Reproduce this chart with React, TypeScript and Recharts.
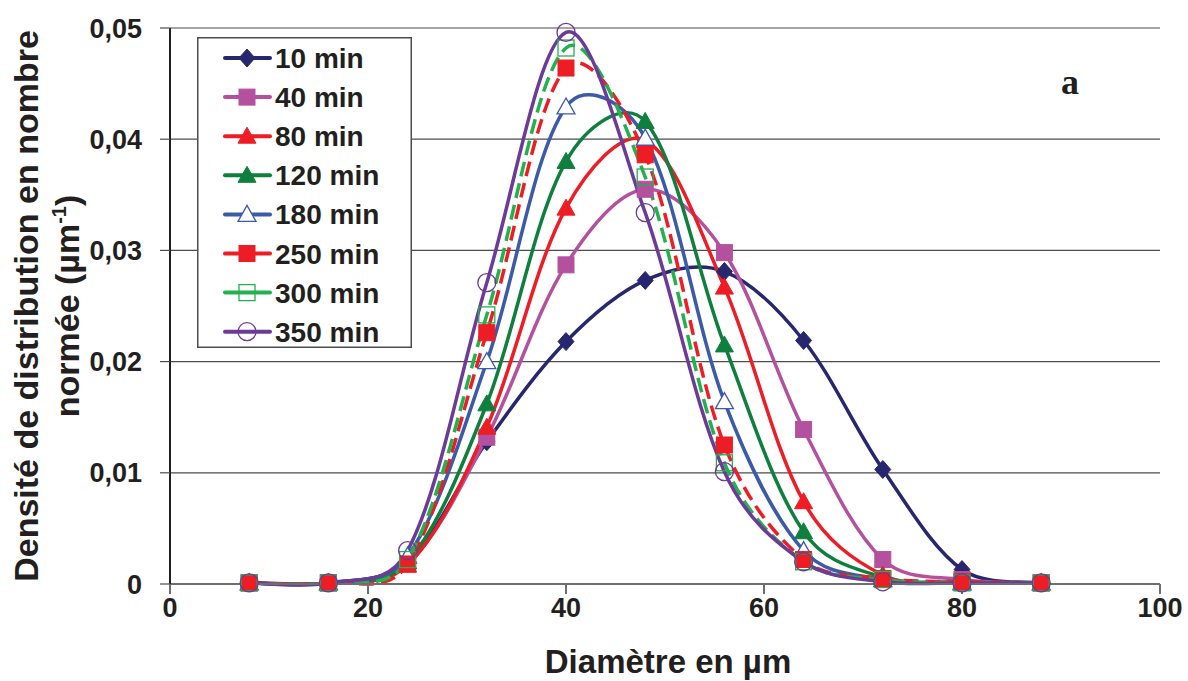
import React from 'react';
import { LineChart, Line, XAxis, YAxis, CartesianGrid, Legend, Label } from 'recharts';

// ---------- data ----------
const diameters = [8, 16, 24, 32, 40, 48, 56, 64, 72, 80, 88];
const min10 = [0.0001, 0.0001, 0.002, 0.0128, 0.0218, 0.0273, 0.0281, 0.0219, 0.0103, 0.0013, 0.0001];
const min40 = [0.0001, 0.0001, 0.0018, 0.0132, 0.0287, 0.0355, 0.0298, 0.0139, 0.0022, 0.0004, 0.0001];
const min80 = [0.0001, 0.0001, 0.0017, 0.0141, 0.0338, 0.0399, 0.0267, 0.0074, 0.0008, 0.0002, 0.0001];
const min120 = [0.0001, 0.0001, 0.002, 0.0162, 0.038, 0.0416, 0.0215, 0.0047, 0.0006, 0.0001, 0.0001];
const min180 = [0.0001, 0.0001, 0.0025, 0.02, 0.0429, 0.0401, 0.0164, 0.003, 0.0004, 0.0001, 0.0001];
const min250 = [0.0001, 0.0001, 0.0018, 0.0226, 0.0464, 0.0386, 0.0125, 0.0022, 0.0005, 0.0002, 0.0001];
const min300 = [0.0001, 0.0001, 0.0022, 0.0242, 0.0482, 0.0366, 0.0109, 0.002, 0.0004, 0.0001, 0.0001];
const min350 = [0.0001, 0.0001, 0.003, 0.0271, 0.0496, 0.0334, 0.0101, 0.002, 0.0002, 0.0001, 0.0001];

const seriesNames = ['10 min', '40 min', '80 min', '120 min', '180 min', '250 min', '300 min', '350 min'];
const seriesValues = [min10, min40, min80, min120, min180, min250, min300, min350];
const seriesColors = ['#27276f', '#b4519f', '#ee1c25', '#0e7f3d', '#3b5ba9', '#ee1c25', '#22b14c', '#6b3b97'];
const seriesShapes = ['diamond', 'square', 'triangle', 'triangle', 'triangleOpen', 'square', 'squareOpen', 'circleOpen'];
const seriesDashed = [false, false, false, false, false, true, true, false];

const xTicks = [0, 20, 40, 60, 80, 100];
const yTicks = [0, 0.01, 0.02, 0.03, 0.04, 0.05];

const data = diameters.map((d, i) => {
  const row: Record<string, number> = { x: d };
  seriesValues.forEach((vals, s) => {
    row['s' + s] = vals[i];
  });
  return row;
});

const FONT = '"Liberation Sans", Arial, sans-serif';
const TEXT = '#231f20';

// Excel-like smoothed line (Bezier through the points, tangents partly scaled by segment lengths)
const excelCurve: any = (context: any) => {
  let pts: number[][] = [];
  const dist = (a: number[], b: number[]) => Math.hypot(b[0] - a[0], b[1] - a[1]);
  return {
    areaStart() {},
    areaEnd() {},
    lineStart() {
      pts = [];
    },
    lineEnd() {
      const n = pts.length;
      if (!n) return;
      context.moveTo(pts[0][0], pts[0][1]);
      for (let i = 0; i < n - 1; i++) {
        const p0 = pts[i - 1] || pts[i];
        const p1 = pts[i];
        const p2 = pts[i + 1];
        const p3 = pts[i + 2] || p2;
        const d01 = dist(p0, p1);
        const d12 = dist(p1, p2);
        const d23 = dist(p2, p3);
        const f1 = d01 + d12 > 0 ? (d12 / (d01 + d12)) / 3 : 0;
        const f2 = d12 + d23 > 0 ? (d12 / (d12 + d23)) / 3 : 0;
        const a1 = i === 0 ? 1 / 6 : (f1 + 1 / 6) / 2;
        const a2 = i === n - 2 ? 1 / 6 : (f2 + 1 / 6) / 2;
        context.bezierCurveTo(
          p1[0] + (p2[0] - p0[0]) * a1,
          p1[1] + (p2[1] - p0[1]) * a1,
          p2[0] - (p3[0] - p1[0]) * a2,
          p2[1] - (p3[1] - p1[1]) * a2,
          p2[0],
          p2[1]
        );
      }
    },
    point(x: number, y: number) {
      pts.push([+x, +y]);
    },
  };
};

function Marker({ shape, color, cx, cy }: { shape: string; color: string; cx: number; cy: number }) {
  switch (shape) {
    case 'diamond':
      return <polygon points={`${cx},${cy - 9} ${cx + 8},${cy} ${cx},${cy + 9} ${cx - 8},${cy}`} fill={color} stroke={color} strokeWidth={1} />;
    case 'square':
      return <rect x={cx - 8} y={cy - 8} width={16} height={16} fill={color} stroke={color} strokeWidth={1} />;
    case 'squareOpen':
      return <rect x={cx - 8} y={cy - 8} width={16} height={16} fill="none" stroke={color} strokeWidth={1.3} />;
    case 'triangle':
      return <polygon points={`${cx},${cy - 9} ${cx + 9},${cy + 7} ${cx - 9},${cy + 7}`} fill={color} stroke={color} strokeWidth={1} />;
    case 'triangleOpen':
      return <polygon points={`${cx},${cy - 9} ${cx + 9},${cy + 7} ${cx - 9},${cy + 7}`} fill="#ffffff" stroke={color} strokeWidth={1.3} />;
    case 'circleOpen':
    default:
      return <circle cx={cx} cy={cy} r={9} fill="none" stroke={color} strokeWidth={1.3} />;
  }
}

const makeDot = (s: number) => (props: any) => {
  const { cx, cy, index } = props;
  if (cx == null || cy == null) return <g key={`d${s}-${index}`} />;
  return (
    <g key={`d${s}-${index}`}>
      <Marker shape={seriesShapes[s]} color={seriesColors[s]} cx={cx} cy={cy} />
    </g>
  );
};

const LegendBox = () => {
  const w = 215;
  const h = 311;
  const rowH = 39.1;
  return (
    <svg width={w} height={h} style={{ display: 'block' }}>
      <rect x={0.75} y={0.75} width={w - 1.5} height={h - 1.5} fill="#ffffff" stroke="#4d4d4f" strokeWidth={1.5} />
      {seriesNames.map((name, s) => {
        const cy = 21 + s * rowH;
        return (
          <g key={name}>
            <line x1={28} y1={cy} x2={73} y2={cy} stroke={seriesColors[s]} strokeWidth={4} strokeLinecap="round" />
            <Marker shape={seriesShapes[s]} color={seriesColors[s]} cx={50} cy={cy} />
            <text x={78} y={cy + 10} fontFamily={FONT} fontWeight="bold" fontSize={28} fill={TEXT}>
              {name}
            </text>
          </g>
        );
      })}
    </svg>
  );
};

const YTitle = () => (
  <g fontFamily={FONT} fontWeight="bold" fontSize={34} fill={TEXT}>
    <text transform="translate(38,306) rotate(-90)" textAnchor="middle">
      Densité de distribution en nombre
    </text>
    <text transform="translate(79,306) rotate(-90)" textAnchor="middle">
      normée (µm
      <tspan fontSize={20} dy={-13}>-1</tspan>
      <tspan dy={13}>)</tspan>
    </text>
  </g>
);

const XTitle = () => (
  <text x={668} y={673} textAnchor="middle" fontFamily={FONT} fontWeight="bold" fontSize={33} fill={TEXT}>
    Diamètre en µm
  </text>
);

const yFormat = (v: number) => (v === 0 ? '0' : v.toFixed(2).replace('.', ','));

export default function App() {
  return (
    <div style={{ position: 'absolute', left: 0, top: 0, width: 1188, height: 681, background: '#ffffff' }}>
      <LineChart width={1188} height={681} data={data} margin={{ top: 28, right: 28, bottom: 0, left: 0 }}>
        <CartesianGrid horizontal vertical={false} stroke="#4d4d4f" strokeWidth={1.2} />
        <XAxis
          type="number"
          dataKey="x"
          domain={[0, 100]}
          ticks={xTicks}
          interval={0}
          height={97}
          tickSize={10}
          tickMargin={4}
          stroke="#6d6e71"
          strokeWidth={2}
          tickLine={{ stroke: '#6d6e71', strokeWidth: 2 }}
          tick={{ fontSize: 27, fontWeight: 'bold', fill: TEXT, fontFamily: FONT }}
          label={<Label content={XTitle} />}
        />
        <YAxis
          type="number"
          domain={[0, 0.05]}
          ticks={yTicks}
          interval={0}
          width={170}
          tickSize={10}
          tickMargin={18}
          tickFormatter={yFormat}
          stroke="#231f20"
          strokeWidth={2}
          tickLine={{ stroke: '#4d4d4f', strokeWidth: 1.2 }}
          tick={{ fontSize: 27, fontWeight: 'bold', fill: TEXT, fontFamily: FONT }}
          label={<Label content={YTitle} />}
        />
        {seriesNames.map((name, s) => (
          <Line
            key={name}
            name={name}
            dataKey={'s' + s}
            type={excelCurve}
            stroke={seriesColors[s]}
            strokeWidth={3.5}
            strokeDasharray={seriesDashed[s] ? '15 7' : undefined}
            strokeDashoffset={s === 6 ? 5 : 0}
            dot={makeDot(s)}
            activeDot={false}
            isAnimationActive={false}
          />
        ))}
        <Legend
          layout="vertical"
          align="center"
          verticalAlign="middle"
          content={LegendBox}
          wrapperStyle={{ position: 'absolute', left: 197, top: 37, width: 215, height: 311 }}
        />
      </LineChart>
      <div
        style={{
          position: 'absolute',
          left: 1061,
          top: 62,
          fontFamily: '"Liberation Serif", "Times New Roman", serif',
          fontWeight: 'bold',
          fontSize: 36,
          color: TEXT,
          lineHeight: '40px',
        }}
      >
        a
      </div>
    </div>
  );
}
